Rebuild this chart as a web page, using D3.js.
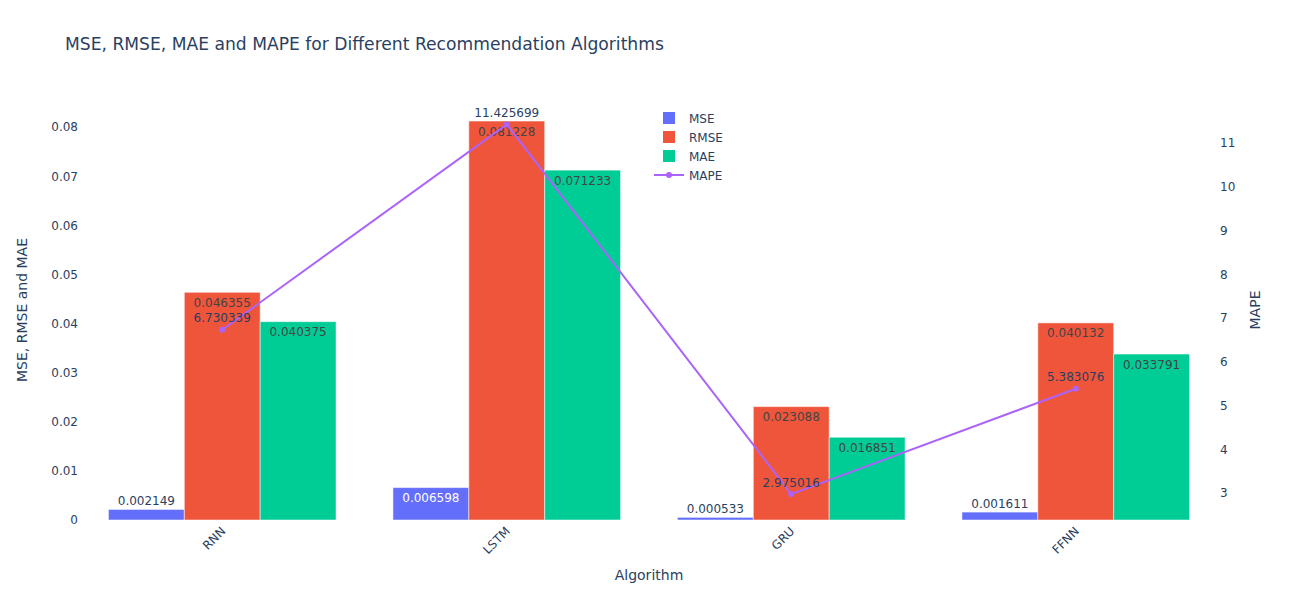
<!DOCTYPE html>
<html><head><meta charset="utf-8">
<script src="https://cdn.jsdelivr.net/npm/d3@7"></script>
<style>body{margin:0;background:#fff}svg text{font-family:"DejaVu Sans",Verdana,sans-serif}</style>
</head><body>
<svg id="c" width="1298" height="600"></svg>
<script>
const categories = ["RNN", "LSTM", "GRU", "FFNN"];
const mse  = [0.002149, 0.006598, 0.000533, 0.001611];
const rmse = [0.046355, 0.081228, 0.023088, 0.040132];
const mae  = [0.040375, 0.071233, 0.016851, 0.033791];
const mape = [6.730339, 11.425699, 2.975016, 5.383076];
const seriesNames = ["MSE", "RMSE", "MAE"];
const seriesColors = ["#636efa", "#EF553B", "#00cc96"];
const lineColor = "#ab63fa";
const leftTicks = [0, 0.01, 0.02, 0.03, 0.04, 0.05, 0.06, 0.07, 0.08];
const rightTicks = [3, 4, 5, 6, 7, 8, 9, 10, 11];

const barSeries = [mse, rmse, mae];
const svg = d3.select("#c");
const L = 80, R = 1218, T = 100, B = 520;
const ink = "#2a3f5f";

const x = d3.scaleBand().domain(categories).range([L, R]).paddingInner(0.2).paddingOuter(0.1);
const xs = d3.scaleBand().domain(seriesNames).range([0, x.bandwidth()]).padding(0);
const y = d3.scaleLinear().domain([0, 0.08551]).range([B, T]);
const y2 = d3.scaleLinear().domain([2.383, 11.983]).range([B, T]);

// title
svg.append("text").attr("x", 65).attr("y", 50).attr("font-size", 17.15).attr("fill", ink)
  .text("MSE, RMSE, MAE and MAPE for Different Recommendation Algorithms");

// left axis
const ya = svg.append("g").attr("transform", `translate(${L},0)`)
  .call(d3.axisLeft(y).tickValues(leftTicks).tickSize(0).tickPadding(2).tickFormat(d => d === 0 ? "0" : d3.format(".2f")(d)));
ya.select(".domain").remove();
ya.selectAll("text").attr("font-size", 12).attr("fill", ink).attr("font-family", "DejaVu Sans, Verdana, sans-serif");

// right axis
const yb = svg.append("g").attr("transform", `translate(${R},0)`)
  .call(d3.axisRight(y2).tickValues(rightTicks).tickSize(0).tickPadding(2).tickFormat(d3.format("d")));
yb.select(".domain").remove();
yb.selectAll("text").attr("font-size", 12).attr("fill", ink).attr("font-family", "DejaVu Sans, Verdana, sans-serif");

// x axis
const xa = svg.append("g").attr("transform", `translate(0,${B})`)
  .call(d3.axisBottom(x).tickSize(0).tickPadding(0));
xa.select(".domain").remove();
xa.selectAll("text").attr("font-size", 12).attr("fill", ink).attr("font-family", "DejaVu Sans, Verdana, sans-serif")
  .attr("text-anchor", "end").attr("dy", null).attr("y", 0)
  .attr("transform", "translate(4,12) rotate(-45)");

// axis titles
svg.append("text").attr("x", 649).attr("y", 580).attr("text-anchor", "middle").attr("font-size", 14).attr("fill", ink).text("Algorithm");
svg.append("text").attr("transform", "translate(27,310) rotate(-90)").attr("text-anchor", "middle").attr("font-size", 14).attr("fill", ink).text("MSE, RMSE and MAE");
svg.append("text").attr("transform", "translate(1260,310) rotate(-90)").attr("text-anchor", "middle").attr("font-size", 14).attr("fill", ink).text("MAPE");

// bars
const fmt = d3.format(".6f");
barSeries.forEach((vals, si) => {
  const g = svg.append("g");
  categories.forEach((c, i) => {
    const x0 = x(c) + xs(seriesNames[si]);
    const w = xs.bandwidth();
    const top = y(vals[i]);
    const h = y(0) - top;
    g.append("rect").attr("x", x0).attr("y", top).attr("width", w).attr("height", h)
      .attr("fill", seriesColors[si]).attr("stroke", "rgba(255,255,255,0.5)").attr("stroke-width", 1);
    const inside = h > 20;
    const col = inside ? (si === 0 ? "#fff" : "#444") : ink;
    g.append("text").attr("x", x0 + w / 2).attr("y", inside ? top + 14.5 : top - 4.5)
      .attr("text-anchor", "middle").attr("font-size", 12).attr("fill", col).text(fmt(vals[i]));
  });
});

// MAPE line
const pts = categories.map((c, i) => [x(c) + x.bandwidth() / 2, y2(mape[i])]);
svg.append("path").attr("d", d3.line()(pts)).attr("fill", "none").attr("stroke", lineColor).attr("stroke-width", 2);
svg.selectAll(".mk").data(pts).enter().append("circle").attr("cx", d => d[0]).attr("cy", d => d[1]).attr("r", 3).attr("fill", lineColor);
categories.forEach((c, i) => {
  svg.append("text").attr("x", pts[i][0]).attr("y", pts[i][1] - 7.5).attr("text-anchor", "middle")
    .attr("font-size", 12).attr("fill", ink).text(fmt(mape[i]));
});

// legend
const lg = svg.append("g");
const legendItems = seriesNames.concat(["MAPE"]);
legendItems.forEach((n, i) => {
  const cy = 118 + i * 19;
  if (i < 3) {
    lg.append("rect").attr("x", 663).attr("y", cy - 6).attr("width", 12).attr("height", 12).attr("fill", seriesColors[i]);
  } else {
    lg.append("line").attr("x1", 654).attr("x2", 684).attr("y1", cy).attr("y2", cy).attr("stroke", lineColor).attr("stroke-width", 2);
    lg.append("circle").attr("cx", 669).attr("cy", cy).attr("r", 3).attr("fill", lineColor);
  }
  lg.append("text").attr("x", 689).attr("y", cy + 4.5).attr("font-size", 12).attr("fill", ink).text(n);
});
</script>
</body></html>
